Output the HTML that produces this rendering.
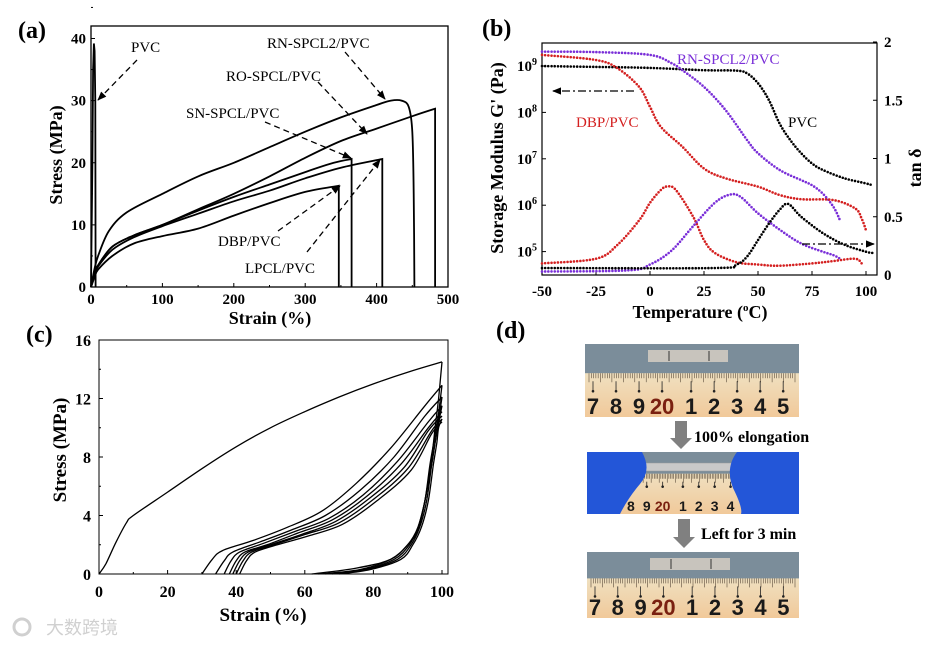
<!DOCTYPE html>
<html><head><meta charset="utf-8">
<style>
html,body{margin:0;padding:0;background:#fff;width:938px;height:650px;overflow:hidden}
svg{display:block;font-family:"Liberation Serif",serif}
</style></head>
<body>
<svg id="fig" width="938" height="650" viewBox="0 0 938 650">
<defs>
<marker id="ah" viewBox="0 0 10 10" refX="9" refY="5" markerWidth="7" markerHeight="7" orient="auto"><path d="M0,1 L10,5 L0,9 z" fill="#000"/></marker>
<linearGradient id="ruler" x1="0" y1="0" x2="0" y2="1"><stop offset="0" stop-color="#efe0c0"/><stop offset="1" stop-color="#f1c99a"/></linearGradient>
</defs>
</svg>
<script>
// ---------- Panel (a) data ----------
const aPVC_x=[0,2,3,4,5,6,6.5];
const aPVC_y=[0,20,35,39.2,38,30,0];
const aRN_x=[0,5,10,25,50,100,150,200,250,300,350,400,420,435,445,450,452,453];
const aRN_y=[0,3,5,9,12,15,17.8,20,22.5,25,27.3,29.3,30,30,29,25,15,0];
const aRO_x=[0,5,10,30,60,100,150,200,250,300,350,400,450,482,482];
const aRO_y=[0,2,3.5,6.5,8.3,10,12.5,15,17.8,20.8,23.5,25.5,27.5,28.7,0];
const aSN_x=[0,5,10,30,60,100,150,200,250,300,340,365,365];
const aSN_y=[0,2,3.5,6.5,8.3,10,12.3,14.5,16.5,18.5,20,20.6,0];
const aLP_x=[0,5,10,30,60,100,150,200,250,300,350,408,408];
const aLP_y=[0,1.9,3.3,6,8,9.8,11.8,13.8,15.5,17.5,19.2,20.6,0];
const aDBP_x=[0,5,10,30,60,100,150,200,250,300,347,347];
const aDBP_y=[0,1.6,2.8,5,7,8.2,9.4,11.5,13.5,15.3,16.3,0];
const aXticks=[0,100,200,300,400,500];
const aYticks=[0,10,20,30,40];

// ---------- Panel (b) data ----------
const bT_pvc=[-50,-25,0,25,40,45,50,55,60,65,70,75,80,90,100,103];
const bG_pvc=[9.0,8.98,8.96,8.91,8.9,8.84,8.63,8.27,7.76,7.4,7.12,6.9,6.76,6.58,6.47,6.43];
const bT_rn=[-50,-25,0,10,15,25,35,45,50,60,70,75,80,85,88];
const bG_rn=[9.31,9.3,9.24,9.06,8.91,8.55,8.05,7.4,7.12,6.76,6.54,6.43,6.25,5.96,5.67];
const bT_dbp=[-50,-25,-15,-5,0,5,15,25,35,50,60,70,85,95,98,100];
const bG_dbp=[9.24,9.13,8.95,8.55,8.12,7.69,7.26,6.79,6.58,6.4,6.22,6.13,6.11,5.93,5.71,5.46];
const bTt_dbp=[-50,-25,-15,-5,0,5,8,12,20,25,30,40,50,60,75,85,95,98];
const bTan_dbp=[0.10,0.14,0.26,0.47,0.62,0.73,0.76,0.73,0.5,0.3,0.19,0.11,0.09,0.08,0.1,0.12,0.14,0.1];
const bTt_rn=[-50,-10,0,10,20,30,37,42,50,60,70,80,85,88];
const bTan_rn=[0.03,0.04,0.09,0.21,0.42,0.62,0.69,0.67,0.53,0.39,0.27,0.2,0.17,0.14];
const bTt_pvc=[-50,30,40,45,50,55,60,64,70,80,90,100,103];
const bTan_pvc=[0.06,0.06,0.09,0.16,0.3,0.44,0.56,0.61,0.5,0.36,0.26,0.2,0.19];
const bXticks=[-50,-25,0,25,50,75,100];
const bLogTicks=[5,6,7,8,9];
const bTanTicks=[0,0.5,1,1.5,2];

// ---------- Panel (c) data ----------
const cLoad1_x=[0,2,5,8,10,20,30,40,50,60,70,80,90,100];
const cLoad1_y=[0,0.7,2.2,3.5,4,5.6,7.2,8.7,10,11.1,12.1,13,13.8,14.5];
const cReload_x=[
 [30,33,36,45,55,65,75,85,95,100],
 [34,36.5,39,47,56,66,76,86,95,100],
 [36.5,38.5,41,48,57,67,77,87,96,100],
 [38,40,42.5,49,58,68,78,88,96,100],
 [39,41,43.5,50,59,69,79,89,96,100],
 [40,42,44.5,51,60,70,80,90,97,100],
 [41,43,45.5,52,61,71,81,91,97,100]];
const cReload_y=[
 [0,1,1.6,2.3,3.2,4.3,6.2,8.6,11.5,12.9],
 [0,0.9,1.5,2.2,3.0,4.0,5.7,8.0,10.8,12.1],
 [0,0.9,1.5,2.1,2.9,3.8,5.4,7.7,10.4,11.5],
 [0,0.9,1.5,2.0,2.8,3.7,5.3,7.5,10.0,11.1],
 [0,0.9,1.5,2.0,2.7,3.6,5.2,7.3,9.8,10.8],
 [0,0.9,1.5,2.0,2.7,3.5,5.1,7.2,9.8,10.6],
 [0,0.9,1.5,2.0,2.6,3.4,5.0,7.1,9.6,10.4]];
const cUnload_x=[
 [100,99,98,97,95,93,90,85,75,62],
 [100,99,98,96.5,95,93,90,85,76,64],
 [100,99,98,97,95,93,90.5,86,77,66],
 [100,99,98,97,95.5,93.5,91,87,78,68],
 [100,99,98.5,97.5,96,94,91.5,88,79,70]];
const cUnload_y=[
 [14.5,12,10,8,5,3,2,1,0.4,0],
 [12.9,11,9.5,7.5,5,3.2,2,1,0.3,0],
 [12.1,10.5,9,7.5,5,3.2,2,1,0.3,0],
 [11.5,10.3,9,7.5,5,3.2,2,1,0.3,0],
 [10.6,10,9,7.5,5,3.2,2,1,0.3,0]];
const cXticks=[0,20,40,60,80,100];
const cYticks=[0,4,8,12,16];

const NS="http://www.w3.org/2000/svg";
const svg=document.getElementById('fig');
function mk(tag,attrs,parent){const e=document.createElementNS(NS,tag);for(const k in attrs)e.setAttribute(k,attrs[k]);(parent||svg).appendChild(e);return e;}
function txt(str,x,y,size,weight,anchor,parent,fill){const t=mk('text',{x:x,y:y,'font-size':size,'font-weight':weight||'normal','text-anchor':anchor||'start',fill:fill||'#000'},parent);t.textContent=str;return t;}
function pts(xs,ys,fx,fy){return xs.map((v,i)=>fx(v).toFixed(1)+','+fy(ys[i]).toFixed(1)).join(' ');}
// smooth path (Catmull-Rom); if dropLast, final segment is straight
function smooth(xs,ys,fx,fy,dropLast){
 const P=xs.map((v,i)=>[fx(v),fy(ys[i])]);
 const n=dropLast?P.length-1:P.length;
 let d='M'+P[0][0].toFixed(1)+','+P[0][1].toFixed(1);
 for(let i=0;i<n-1;i++){
  const p0=P[Math.max(0,i-1)],p1=P[i],p2=P[i+1],p3=P[Math.min(n-1,i+2)];
  const c1=[p1[0]+(p2[0]-p0[0])/6,p1[1]+(p2[1]-p0[1])/6];
  const c2=[p2[0]-(p3[0]-p1[0])/6,p2[1]-(p3[1]-p1[1])/6];
  d+=' C'+c1.map(v=>v.toFixed(1)).join(',')+' '+c2.map(v=>v.toFixed(1)).join(',')+' '+p2[0].toFixed(1)+','+p2[1].toFixed(1);
 }
 if(dropLast)d+=' L'+P[P.length-1][0].toFixed(1)+','+P[P.length-1][1].toFixed(1);
 return d;
}

// ===== Panel (a) =====
const ax=v=>91+v*(448-91)/500;
const ay=v=>287-v*(287-38.5)/40;
const ga=mk('g',{});


const la=txt('(a)',18,38,24,'bold','start',ga);


const fa=mk('rect',{x:91,y:26,width:357,height:261,fill:'none',stroke:'#000','stroke-width':1.3},ga);


aXticks.forEach(v=>{mk('line',{x1:ax(v),y1:287,x2:ax(v),y2:283,stroke:'#000'},ga);const t=txt(String(v),ax(v),304,15,'bold','middle',ga);});
aXticks.slice(0,-1).forEach(v=>mk('line',{x1:ax(v+50),y1:287,x2:ax(v+50),y2:285,stroke:'#000'},ga));
aYticks.forEach(v=>{mk('line',{x1:91,y1:ay(v),x2:95,y2:ay(v),stroke:'#000'},ga);const t=txt(String(v),86,ay(v)+5,15,'bold','end',ga);});
aYticks.forEach(v=>mk('line',{x1:91,y1:ay(v+5),x2:93,y2:ay(v+5),stroke:'#000'},ga));
const axt=txt('Strain (%)',270,324,18,'bold','middle',ga);


const ayt=txt('Stress (MPa)',0,0,18,'bold','middle',ga);
ayt.setAttribute('transform','translate(62,155) rotate(-90)');


const pvcA=mk('polyline',{points:pts(aPVC_x,aPVC_y,ax,ay),fill:'none',stroke:'#000','stroke-width':1.8},ga);


[['rn-spcl2',aRN_x,aRN_y,false],['ro-spcl',aRO_x,aRO_y,true],['sn-spcl',aSN_x,aSN_y,true],['lpcl',aLP_x,aLP_y,true],['dbp',aDBP_x,aDBP_y,true]].forEach(s=>{
 const p=mk('path',{d:smooth(s[1],s[2],ax,ay,s[3]),fill:'none',stroke:'#000','stroke-width':1.8},ga);
 
 
});
[['PVC',131,52,[137,60,98,100]],['RN-SPCL2/PVC',267,48,[345,52,385,99]],['RO-SPCL/PVC',226,81,[318,82,367,134]],['SN-SPCL/PVC',186,118,[265,122,351,158]],['DBP/PVC',218,246,[278,231,340,186]],['LPCL/PVC',245,273,[307,252,380,160]]].forEach(l=>{
 const t=txt(l[0],l[1],l[2],15,'normal','start',ga);
 
 
 const a=l[3];
 const ar=mk('line',{x1:a[0],y1:a[1],x2:a[2],y2:a[3],stroke:'#000','stroke-width':1.3,'stroke-dasharray':'6,4','marker-end':'url(#ah)'},ga);
 
 
});

// ===== Panel (b) =====
const bx=v=>542+(v+50)*(866-542)/150;
const by=v=>66+(9-v)*46.4;
const bt=v=>275-v*(275-42)/2;
const gb=mk('g',{});


const lb=txt('(b)',482,36,24,'bold','start',gb);


const fb=mk('rect',{x:542,y:43,width:335,height:232,fill:'none',stroke:'#000','stroke-width':1.2},gb);


bXticks.forEach(v=>{mk('line',{x1:bx(v),y1:275,x2:bx(v),y2:271,stroke:'#000'},gb);const t=txt(String(v),bx(v),296,15,'bold','middle',gb);});
bLogTicks.forEach(v=>{mk('line',{x1:542,y1:by(v),x2:546,y2:by(v),stroke:'#000'},gb);const t=mk('text',{x:537,y:by(v)+5,'font-size':15,'font-weight':'bold','text-anchor':'end'},gb);t.innerHTML='10<tspan dy="-6" font-size="10">'+v+'</tspan>';});
bTanTicks.forEach(v=>{mk('line',{x1:877,y1:bt(v),x2:873,y2:bt(v),stroke:'#000'},gb);const t=txt(String(v),884,bt(v)+5,15,'bold','start',gb);});
const bxt=mk('text',{x:700,y:318,'font-size':18,'font-weight':'bold','text-anchor':'middle'},gb);
bxt.innerHTML='Temperature (<tspan dy="-7" font-size="11">o</tspan><tspan dy="7">C)</tspan>';


const byt=txt("Storage Modulus G' (Pa)",0,0,18,'bold','middle',gb);
byt.setAttribute('transform','translate(503,158) rotate(-90)');


const byt2=txt('tan δ',0,0,18,'bold','middle',gb);
byt2.setAttribute('transform','translate(921,168) rotate(-90)');


const purple='#7a2fd8',red='#d42020';
[['g-pvc',bT_pvc,bG_pvc,by,'#000'],['g-rn-spcl2',bT_rn,bG_rn,by,purple],['g-dbp',bT_dbp,bG_dbp,by,red],['tan-dbp',bTt_dbp,bTan_dbp,bt,red],['tan-rn-spcl2',bTt_rn,bTan_rn,bt,purple],['tan-pvc',bTt_pvc,bTan_pvc,bt,'#000']].forEach(s=>{
 const p=mk('path',{d:smooth(s[1],s[2],bx,s[3],false),fill:'none',stroke:s[4],'stroke-width':2.6,'stroke-linecap':'round','stroke-dasharray':'0 3.2'},gb);
 
 
});
const bl1=txt('RN-SPCL2/PVC',677,64,15,'normal','start',gb,purple);


const bl2=txt('DBP/PVC',576,127,15,'normal','start',gb,red);


const bl3=txt('PVC',788,127,15,'normal','start',gb,'#000');


const ba1=mk('line',{x1:634,y1:91,x2:553,y2:91,stroke:'#000','stroke-width':1.3,'stroke-dasharray':'8,3,2,3','marker-end':'url(#ah)'},gb);


const ba2=mk('line',{x1:802,y1:244,x2:874,y2:244,stroke:'#000','stroke-width':1.3,'stroke-dasharray':'8,3,2,3','marker-end':'url(#ah)'},gb);



// ===== Panel (c) =====
const cx=v=>99+v*(442-99)/100;
const cy=v=>574-v*(574-340)/16;
const gc=mk('g',{});


const lc=txt('(c)',26,342,24,'bold','start',gc);


const fc=mk('rect',{x:99,y:340,width:349,height:234,fill:'none',stroke:'#000','stroke-width':1},gc);


cXticks.forEach(v=>{mk('line',{x1:cx(v),y1:574,x2:cx(v),y2:570,stroke:'#000'},gc);const t=txt(String(v),cx(v),597,16,'bold','middle',gc);});
cXticks.slice(0,-1).forEach(v=>mk('line',{x1:cx(v+10),y1:574,x2:cx(v+10),y2:572,stroke:'#000'},gc));
cYticks.forEach(v=>{mk('line',{x1:99,y1:cy(v),x2:103,y2:cy(v),stroke:'#000'},gc);const t=txt(String(v),91,cy(v)+6,16,'bold','end',gc);});
cYticks.slice(0,-1).forEach(v=>mk('line',{x1:99,y1:cy(v+2),x2:101,y2:cy(v+2),stroke:'#000'},gc));
const cxt=txt('Strain (%)',263,621,19,'bold','middle',gc);


const cyt=txt('Stress (MPa)',0,0,19,'bold','middle',gc);
cyt.setAttribute('transform','translate(66,450) rotate(-90)');


const pc1=mk('path',{d:smooth(cLoad1_x,cLoad1_y,cx,cy,false),fill:'none',stroke:'#000','stroke-width':1.3},gc);


cReload_x.forEach((xs,i)=>{const p=mk('path',{d:smooth(xs,cReload_y[i],cx,cy,false),fill:'none',stroke:'#000','stroke-width':1.3},gc);
 
 });
cUnload_x.forEach((xs,i)=>{const p=mk('path',{d:smooth(xs,cUnload_y[i],cx,cy,false),fill:'none',stroke:'#000','stroke-width':1.3},gc);
 
 });
const wm=txt('大数跨境',46,634,18,'normal','start',gc,'#d0d0d0');
wm.setAttribute('font-family','"Noto Sans CJK SC",sans-serif');


const wmi=mk('circle',{cx:22,cy:627,r:8,fill:'none',stroke:'#d0d0d0','stroke-width':3},gc);



// ===== Panel (d) =====
const gd=mk('g',{});


const ld=txt('(d)',496,338,24,'bold','start',gd);


const rulerNums=['7','8','9','20','1','2','3','4','5'];
function photo(x,y,w,h,stretched,name){
 const g=mk('g',{},gd);
 
 
 const top=stretched?0.35:0.4;
 mk('rect',{x:x,y:y,width:w,height:h,fill:'#7b8d9a'},g);
 const ry=y+h*top;
 mk('rect',{x:x,y:ry,width:w,height:h-h*top,fill:'url(#ruler)'},g);
 const sc=stretched?0.72:1;
 const x0=stretched?x+20:x;
 const ww=w*sc;
 for(let i=0;i<=90;i++){const tx=x0+4+i*(ww-8)/90;const L=i%5==0?9:5;mk('line',{x1:tx,y1:ry,x2:tx,y2:ry+L,stroke:'#5a4a3a','stroke-width':0.6},g);}
 rulerNums.forEach((n,i)=>{const tx=x0+8+i*(ww-16)/8.6+(i>3?6*sc:0);
  mk('line',{x1:tx,y1:ry+8,x2:tx,y2:ry+18*sc,stroke:'#222','stroke-width':0.8},g);
  mk('circle',{cx:tx,cy:ry+18*sc,r:1.3,fill:'#222'},g);
  const t=txt(n,tx,y+h-3,stretched?14:22,'bold','middle',g,n==='20'?'#7a2010':'#1a1a1a');
  t.setAttribute('font-family','"Liberation Sans",sans-serif');
 });
 if(stretched){
  mk('rect',{x:x+50,y:y+11,width:115,height:8,fill:'#c9c9c9',stroke:'#999','stroke-width':0.5},g);
  mk('path',{d:`M${x} ${y} h55 q10 18 -2 32 q-12 14 -20 30 h-33 z`,fill:'#2356d8'},g);
  mk('path',{d:`M${x+w} ${y} h-62 q-12 16 -4 36 q10 20 8 26 h58 z`,fill:'#2356d8'},g);
 } else {
  mk('rect',{x:x+63,y:y+6,width:80,height:12,fill:'#c8c4bd'},g);
  mk('line',{x1:x+84,y1:y+7,x2:x+84,y2:y+17,stroke:'#333'},g);
  mk('line',{x1:x+124,y1:y+7,x2:x+124,y2:y+17,stroke:'#333'},g);
 }
}
photo(585,344,214,73,false,'photo-original-sample');
photo(587,452,212,62,true,'photo-stretched-sample');
photo(587,552,212,66,false,'photo-recovered-sample');
function darrow(x,y1,y2,name){const p=mk('path',{d:`M${x-6} ${y1} h12 v${y2-y1-10} h5 l-11 11 l-11 -11 h5 z`,fill:'#808080'},gd);
 
 }
darrow(681,421,448,'arrow-elongation');
darrow(684,519,547,'arrow-recovery');
const dt1=txt('100% elongation',694,442,16,'bold','start',gd);


const dt2=txt('Left for 3 min',701,539,16,'bold','start',gd);


</script>
</body></html>
